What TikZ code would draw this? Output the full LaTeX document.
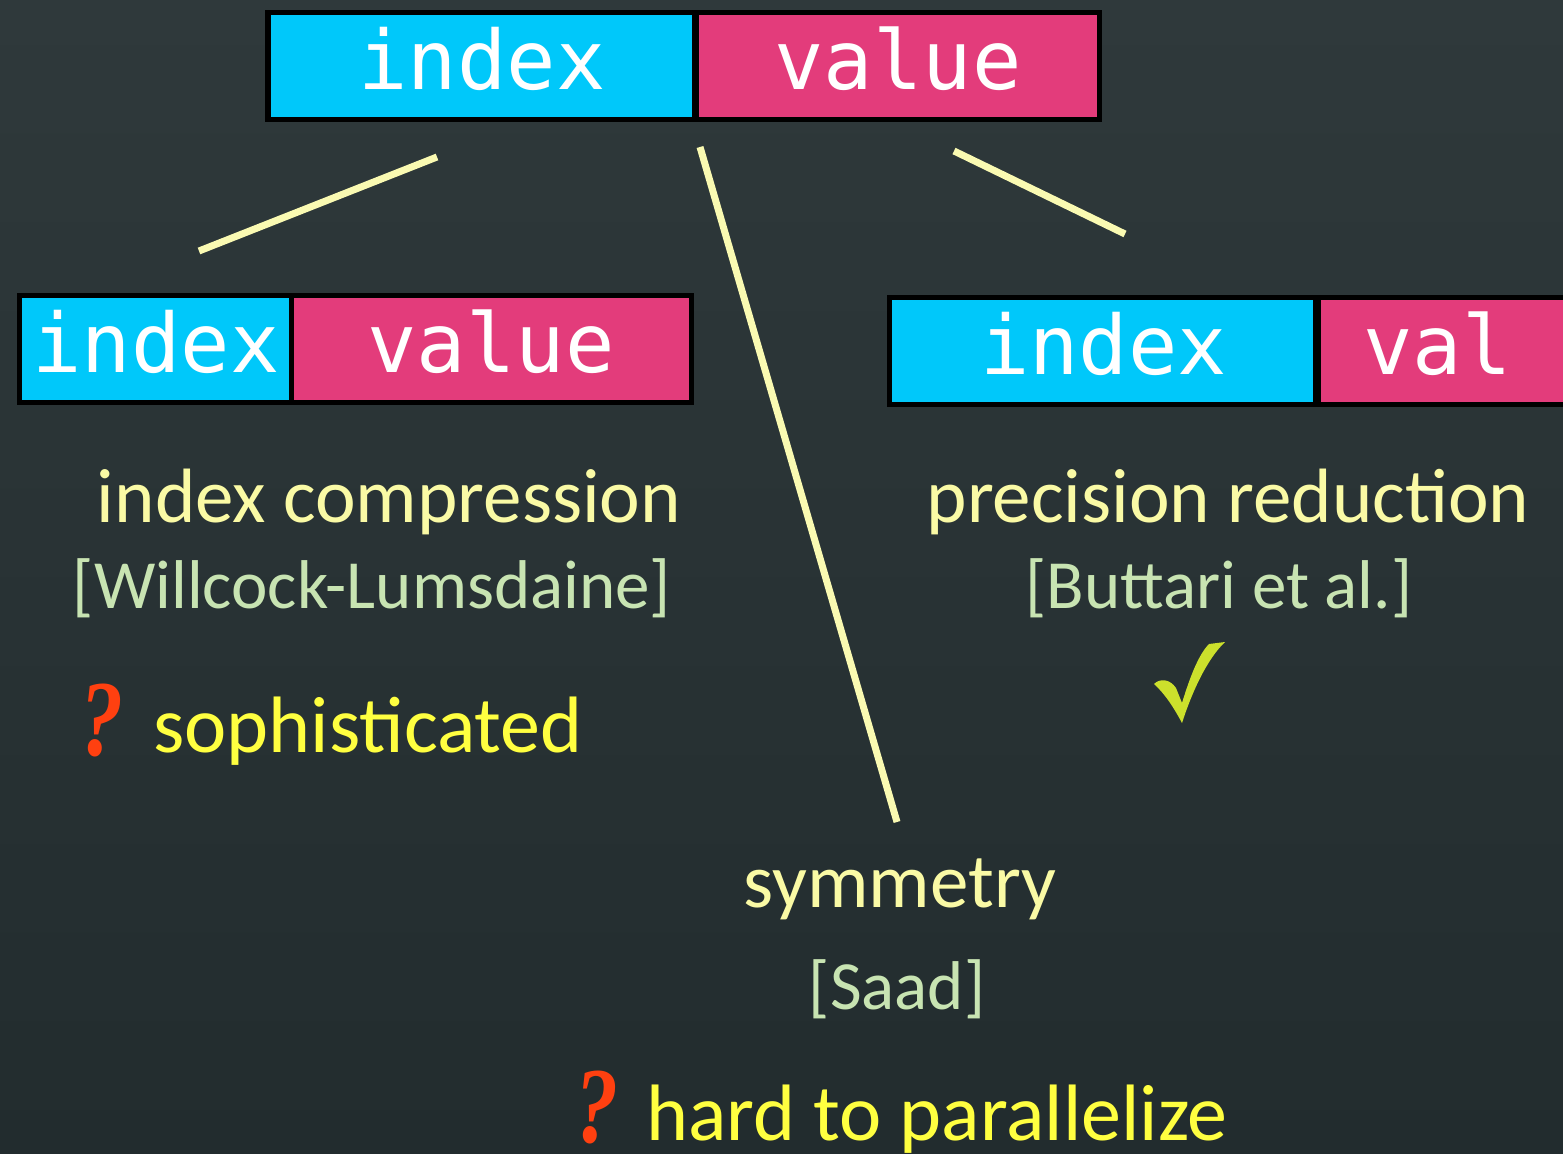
\documentclass[tikz,border=0pt]{standalone}
\usepackage{fontspec}
\setmainfont{Carlito}
\newfontfamily\monofont{DejaVu Sans Mono}
\newfontfamily\qmarkfont{Liberation Serif}
\definecolor{bgtop}{RGB}{47,57,59}
\definecolor{bgbottom}{RGB}{34,44,46}
\definecolor{idxcyan}{RGB}{0,200,250}
\definecolor{valpink}{RGB}{227,60,123}
\definecolor{linkyellow}{RGB}{250,250,178}
\definecolor{paleyellow}{RGB}{250,250,165}
\definecolor{refgreen}{RGB}{200,228,178}
\definecolor{brightyellow}{RGB}{255,255,64}
\definecolor{qred}{RGB}{255,64,16}
\definecolor{ticklime}{RGB}{204,224,44}
\newcommand{\narrowq}{\scalebox{0.8}[1]{\qmarkfont\bfseries\itshape\fontsize{54}{54}\selectfont ?}}
\begin{document}
\begin{tikzpicture}[x=0.5pt,y=-0.5pt,
  frame/.style={fill=black},
  cellbox/.style={inner sep=0pt, minimum height=51pt},
  idxcell/.style={cellbox, fill=idxcyan},
  valcell/.style={cellbox, fill=valpink},
  celltext/.style={anchor=base, inner sep=0pt, text=white, font=\monofont\fontsize{41}{41}\selectfont},
  link/.style={draw=linkyellow, line width=3.5pt},
  heading/.style={anchor=base, inner sep=0pt, text=paleyellow, font=\fontsize{38.5}{38.5}\selectfont},
  ref/.style={anchor=base, inner sep=0pt, text=refgreen, font=\fontsize{34.5}{34.5}\selectfont},
  issue/.style={anchor=base west, inner sep=0pt, text=brightyellow, font=\fontsize{40}{40}\selectfont},
  qmark/.style={anchor=base west, inner sep=0pt, text=qred}]

\useasboundingbox (0,0) rectangle (1563,1154);
\shade[top color=bgtop, bottom color=bgbottom] (0,0) rectangle (1563,1154);

% top record: index | value
\fill[frame] (265,10) rectangle (1102,122);
\node[idxcell, minimum width=210.5pt] (topidx) at (481.5,66.5) {};
\node[valcell, minimum width=199pt] (topval) at (898,66.5) {};
\node[celltext] (topidxt) at (482,90) {index};
\node[celltext] (topvalt) at (898,90) {value};

% compressed index record
\fill[frame] (17,293) rectangle (694,405);
\node[idxcell, minimum width=133.5pt] (lidx) at (155.5,349) {};
\node[valcell, minimum width=197.5pt] (lval) at (491.5,349) {};
\node[celltext] (lidxt) at (156,373) {index};
\node[celltext] (lvalt) at (491,373) {value};

% reduced precision record (runs past the right edge)
\fill[frame] (887,295) rectangle (1570,407);
\node[idxcell, minimum width=210.5pt] (ridx) at (1102.5,351) {};
\node[valcell, minimum width=125pt] (rval) at (1446,351) {};
\node[celltext] (ridxt) at (1103.5,375) {index};
\node[celltext] (rvalt) at (1437.5,375) {val};

% branches
\coordinate (b1s) at (437,157);
\coordinate (b1e) at (199,251);
\coordinate (b2s) at (700,147);
\coordinate (b2e) at (897,822);
\coordinate (b3s) at (954,151);
\coordinate (b3e) at (1125,234);
\draw[link] (b1s) -- (b1e);
\draw[link] (b2s) -- (b2e);
\draw[link] (b3s) -- (b3e);

% left branch
\node[heading] (idxcomp) at (389,523) {index compression};
\node[ref] (willcock) at (372,609) {[Willcock-Lumsdaine]};
\node[qmark] (q1) at (80,755) {\narrowq};
\node[issue] (soph) at (153,752) {sophisticated};

% right branch
\node[heading] (precred) at (1228,523) {precision reduction};
\node[ref] (buttari) at (1219,609) {[Buttari et al.]};
\fill[ticklime] (1154,684)
  .. controls (1160,678) and (1170,679) .. (1176,688)
  -- (1182,703)
  .. controls (1189,680) and (1198,655) .. (1209,644)
  -- (1225,642)
  .. controls (1206,660) and (1191,695) .. (1182,723)
  .. controls (1173,706) and (1164,693) .. (1154,684) -- cycle;

% middle branch
\node[heading] (symm) at (900,907) {symmetry};
\node[ref] (saad) at (897,1009) {[Saad]};
\node[qmark] (q2) at (575,1142) {\narrowq};
\node[issue] (hard) at (646,1140) {hard to parallelize};
\end{tikzpicture}
\end{document}
